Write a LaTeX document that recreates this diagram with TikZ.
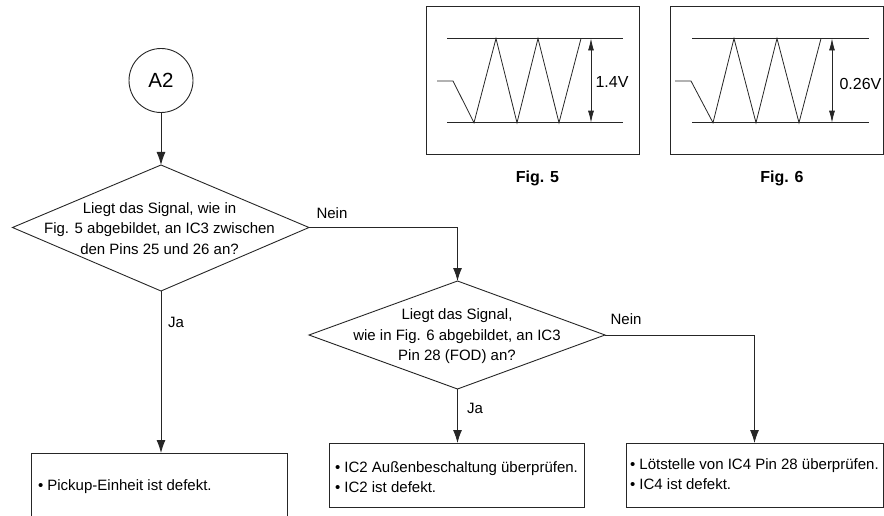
\documentclass[tikz,border=0pt]{standalone}
\usepackage{fontspec}
\setmainfont{Liberation Sans}
\usetikzlibrary{arrows.meta,shapes.geometric}
\tikzset{
  x=1pt,y=-1pt,
  every node/.style={inner sep=0pt,outer sep=0pt,font=\fontsize{15}{20.6}\selectfont},
  line/.style={draw=black!85,line width=0.9pt},
  flow/.style={line,-{Latex[length=13pt,width=9pt]}},
  dim/.style={line,line width=0.8pt,{Latex[length=12pt,width=6pt]}-{Latex[length=12pt,width=6pt]}},
  ttl/.style={align=center},
  wave/.style={line,line width=0.8pt},
  caption/.style={font=\fontsize{16}{18}\selectfont\bfseries},
  volt/.style={font=\fontsize{16}{18}\selectfont},
}
\begin{document}
\begin{tikzpicture}
\useasboundingbox (0,0) rectangle (884,516);
\clip (0,0) rectangle (884,516);
% flow nodes
\node[line,circle,minimum size=64pt,font=\fontsize{20.5}{24}\selectfont] (a2) at (161,80.5) {A2};
\coordinate (d1t) at (161,165); \coordinate (d1l) at (12.5,227.5); \coordinate (d1r) at (309,227.5); \coordinate (d1b) at (161,291);
\draw[line] (d1t)--(d1r)--(d1b)--(d1l)--cycle;
\node[ttl] (d1) at (159.5,228.5) {Liegt das Signal, wie in\\Fig. 5 abgebildet, an IC3 zwischen\\den Pins 25 und 26 an?};
\coordinate (d2t) at (457.5,281); \coordinate (d2l) at (309,335); \coordinate (d2r) at (605,335); \coordinate (d2b) at (457.5,389);
\draw[line] (d2t)--(d2r)--(d2b)--(d2l)--cycle;
\node[ttl] (d2) at (457,336.5) {Liegt das Signal,\\wie in Fig. 6 abgebildet, an IC3\\Pin 28 (FOD) an?};
\node[line,minimum width=256pt,minimum height=68pt,anchor=north west] (r1) at (31,453) {};
\node[anchor=west] (r1t) at (38,487) {• Pickup-Einheit ist defekt.};
\node[line,minimum width=255pt,minimum height=64pt,anchor=north west] (r2) at (329,443) {};
\node[anchor=west,align=left] (r2t) at (335,477) {• IC2 Außenbeschaltung überprüfen.\\• IC2 ist defekt.};
\node[line,minimum width=257pt,minimum height=64pt,anchor=north west] (r3) at (626,443) {};
\node[anchor=west,align=left] (r3t) at (630,474) {• Lötstelle von IC4 Pin 28 überprüfen.\\• IC4 ist defekt.};
% connectors
\draw[flow] (a2) -- (d1t);
\draw[flow] (d1b) -- (r1.north -| d1b);
\draw[flow] (d1r) -| (d2t);
\draw[flow] (d2b) -- (r2.north -| d2b);
\draw[flow] (d2r) -| (r3.north);
\node (n1) at (332,213) {Nein};
\node (j1) at (176,322) {Ja};
\node (n2) at (626,319) {Nein};
\node (j2) at (475,408) {Ja};
% Fig 5
\node[line,minimum width=213pt,minimum height=148pt,anchor=north west] (f5) at (426,6) {};
\draw[wave] (447,38.5)--(623,38.5);
\draw[wave] (447,122.7)--(623,122.7);
\draw[wave] (437,81)--(453,81)--(474,122.7)--(496,38.5)--(517,122.7)--(538,38.5)--(559,122.7)--(581,38.5);
\draw[dim] (591,38.5)--(591,122.7);
\node[volt] (v5) at (612,82) {1.4V};
\node[caption] (c5) at (537.5,178) {Fig. 5};
% Fig 6
\node[line,minimum width=213pt,minimum height=148pt,anchor=north west] (f6) at (670,6) {};
\draw[wave] (692,38.5)--(869,38.5);
\draw[wave] (692,122.7)--(869,122.7);
\draw[wave] (675,81)--(691,81)--(713,122.7)--(734,38.5)--(756,122.7)--(777,38.5)--(799,122.7)--(821,38.5);
\draw[dim] (832,38.5)--(832,122.7);
\node[volt] (v6) at (860.5,84) {0.26V};
\node[caption] (c6) at (782,178) {Fig. 6};
\end{tikzpicture}
\end{document}
